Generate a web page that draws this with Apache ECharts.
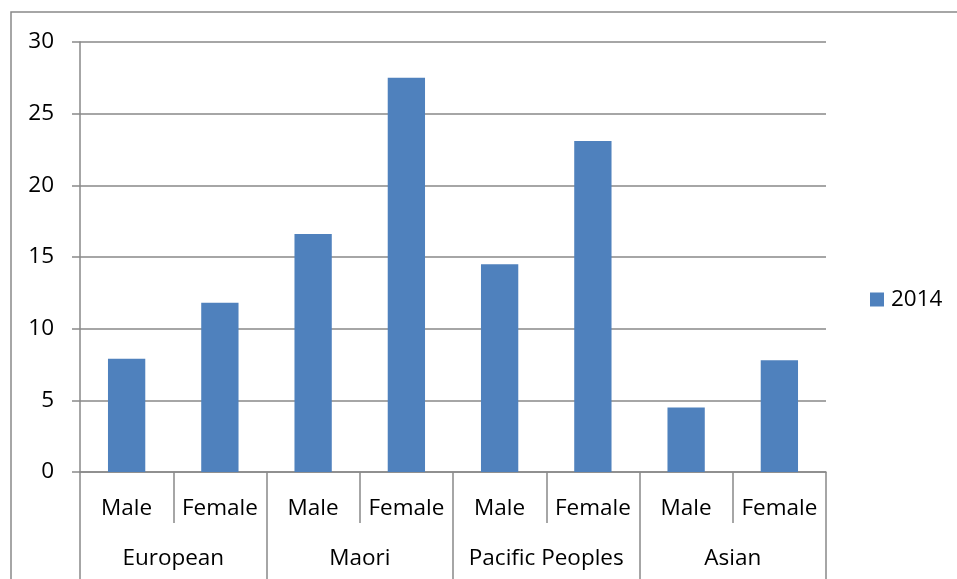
<!DOCTYPE html>
<html><head><meta charset="utf-8">
<script src="https://cdn.jsdelivr.net/npm/echarts@6/dist/echarts.min.js"></script>
<style>html,body{margin:0;padding:0;background:#fff}#c{width:957px;height:579px}</style>
</head><body><div id="c"></div>
<script>
const subCategories = ['Male','Female','Male','Female','Male','Female','Male','Female'];
const groups = ['European','Maori','Pacific Peoples','Asian'];
const values2014 = [7.9, 11.8, 16.6, 27.5, 14.5, 23.1, 4.5, 7.8];
const seriesName = '2014';
const yTicks = {min: 0, max: 30, interval: 5};

const gray = '#898989';
const font = '"Open Sans", sans-serif';
const fs = 22.5;
const chart = echarts.init(document.getElementById('c'));
chart.setOption({
  animation: false,
  backgroundColor: '#fff',
  graphic: [{type: 'polyline', shape: {points: [[11, 600], [11, 12], [970, 12]]}, style: {stroke: gray, lineWidth: 1.5, fill: null}, silent: true}],
  legend: {
    left: 870, top: 288, orient: 'vertical', data: [seriesName],
    icon: 'rect', itemWidth: 14, itemHeight: 14, itemGap: 8, padding: 0,
    textStyle: {fontFamily: font, fontSize: fs, color: '#000', padding: [0, 0, 0, 2]}
  },
  grid: {left: 80, right: 131, top: 42, bottom: 107, containLabel: false},
  xAxis: [{
    type: 'category', data: subCategories, position: 'bottom',
    axisLine: {show: true, lineStyle: {color: gray, width: 1.5}},
    axisTick: {show: true, length: 51, interval: 0, lineStyle: {color: gray, width: 1.5}},
    axisLabel: {interval: 0, margin: 25, fontFamily: font, fontSize: fs, color: '#000'}
  }, {
    type: 'category', data: groups, position: 'bottom', offset: 0,
    axisLine: {show: false},
    axisTick: {show: true, length: 110, interval: 0, lineStyle: {color: gray, width: 1.5}},
    axisLabel: {interval: 0, margin: 75, fontFamily: font, fontSize: fs, color: '#000'}
  }],
  yAxis: {
    type: 'value', min: yTicks.min, max: yTicks.max, interval: yTicks.interval,
    axisLine: {show: true, lineStyle: {color: gray, width: 1.5}},
    axisTick: {show: true, length: 8, lineStyle: {color: gray, width: 1.5}},
    axisLabel: {margin: 26, fontFamily: font, fontSize: fs, color: '#000'},
    splitLine: {show: true, lineStyle: {color: gray, width: 1.5}}
  },
  series: [{
    name: seriesName, type: 'bar', xAxisIndex: 0, data: values2014,
    barWidth: '40%', itemStyle: {color: '#4F81BD'}
  }]
});
</script></body></html>
